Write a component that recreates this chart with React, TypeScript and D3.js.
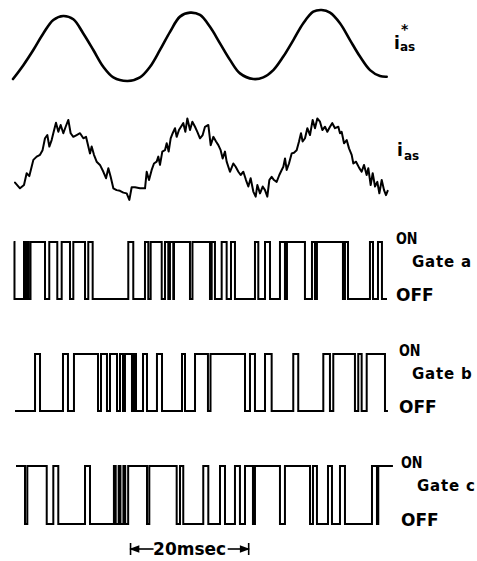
import React from "react";
import * as d3 from "d3";

// Reference current i*_as (normalized) vs time in ms
const refTime = [0, 1.74, 3.42, 5.1, 6.79, 8.47, 10.16, 11.84, 13.53, 15.21, 16.9, 19.32, 21.39, 23.08, 24.76, 26.45, 28.13, 29.82, 31.5, 33.18, 34.87, 36.55, 38.24, 40.48, 42.16, 43.85, 45.53, 47.22, 48.9, 50.59, 52.0, 53.4, 55.08, 56.77, 58.45, 60.14, 61.82, 62.95];
const refValue = [-1.0, -0.58, -0.12, 0.38, 0.79, 0.91, 0.81, 0.38, -0.12, -0.63, -0.95, -1.06, -0.95, -0.63, -0.12, 0.43, 0.89, 1.01, 0.94, 0.58, 0.08, -0.42, -0.83, -1.0, -0.95, -0.73, -0.32, 0.18, 0.69, 1.04, 1.09, 1.01, 0.69, 0.18, -0.32, -0.73, -0.91, -0.93];

// Measured current i_as (normalized) vs time in ms
const measTime = [0.34, 1.18, 1.85, 2.3, 2.75, 3.14, 3.43, 3.99, 4.55, 4.98, 5.39, 5.78, 6.12, 6.51, 6.79, 7.24, 7.64, 8.03, 8.48, 8.87, 9.32, 9.71, 10.16, 10.72, 11.29, 11.85, 12.3, 12.69, 12.97, 13.25, 13.64, 14.09, 14.65, 15.22, 15.67, 16.06, 16.45, 16.9, 17.46, 18.02, 18.59, 19.15, 19.6, 19.99, 20.55, 21.39, 22.24, 22.52, 22.91, 23.36, 23.75, 24.2, 24.48, 24.76, 25.15, 25.6, 25.89, 26.22, 26.56, 26.9, 27.29, 27.57, 27.96, 28.3, 28.69, 29.03, 29.37, 29.82, 30.21, 30.66, 31.05, 31.5, 31.95, 32.34, 32.9, 33.3, 33.75, 34.2, 34.59, 34.98, 35.32, 35.71, 35.99, 36.55, 37.12, 37.51, 37.96, 38.35, 38.8, 39.25, 39.64, 40.03, 40.48, 40.88, 41.16, 41.61, 42.06, 42.45, 42.84, 43.18, 43.57, 43.97, 44.41, 44.86, 45.26, 45.54, 45.82, 46.1, 46.49, 46.94, 47.33, 47.78, 48.18, 48.51, 48.79, 49.19, 49.58, 50.03, 50.48, 50.87, 51.26, 51.71, 52.11, 52.56, 52.95, 53.4, 53.79, 54.24, 54.8, 55.08, 55.36, 55.76, 56.21, 56.6, 57.05, 57.33, 57.78, 58.34, 58.73, 59.13, 59.57, 59.85, 60.25, 60.59, 60.98, 61.37, 61.71, 62.11, 62.5, 62.83, 63.11];
const measValue = [-0.71, -0.87, -0.78, -0.45, -0.53, -0.27, -0.08, 0.01, 0.06, 0.19, 0.52, 0.61, 0.29, 0.47, 0.66, 0.95, 0.7, 0.89, 0.66, 0.84, 1.03, 0.66, 0.56, 0.61, 0.66, 0.52, 0.56, 0.29, 0.1, 0.29, 0.06, -0.13, -0.22, -0.41, -0.59, -0.31, -0.55, -0.87, -0.92, -0.94, -0.99, -1.01, -1.19, -0.84, -0.84, -0.87, -0.87, -0.41, -0.64, -0.36, -0.18, -0.13, 0.01, -0.22, 0.15, 0.19, 0.38, 0.15, 0.52, 0.66, 0.8, 0.56, 0.75, 0.84, 0.94, 0.7, 1.07, 0.75, 0.98, 0.84, 0.7, 0.52, 0.61, 0.84, 0.89, 0.33, 0.56, 0.43, 0.33, 0.19, -0.04, 0.15, -0.13, -0.41, -0.18, -0.27, -0.41, -0.5, -0.41, -0.64, -0.82, -0.59, -0.96, -1.1, -0.78, -1.01, -0.82, -0.92, -1.1, -0.64, -0.55, -0.64, -0.69, -0.5, -0.36, -0.27, -0.04, -0.36, -0.18, 0.1, 0.12, 0.19, 0.43, 0.66, 0.43, 0.52, 0.8, 0.61, 1.03, 0.8, 1.07, 0.98, 0.75, 0.84, 0.7, 0.84, 0.94, 0.8, 0.84, 0.66, 0.7, 0.38, 0.47, 0.24, 0.06, -0.18, -0.13, -0.31, -0.41, -0.22, -0.5, -0.31, -0.78, -0.45, -0.82, -0.69, -1.01, -0.64, -0.92, -1.06, -0.94];

// Gate ON intervals [on, off] in ms
const gateA = [[0.1, 0.25], [1.85, 2.07], [2.4, 2.6], [2.95, 5.39], [6.11, 7.46], [8.2, 9.6], [10.16, 12.13], [12.68, 13.42], [19.42, 20.26], [22.23, 22.79], [23.19, 25.05], [25.6, 26.16], [26.44, 27.0], [27.12, 29.81], [30.23, 33.18], [33.47, 34.02], [35.15, 35.99], [36.72, 37.39], [40.76, 41.32], [42.45, 43.29], [44.97, 45.81], [46.15, 49.18], [50.36, 50.87], [51.2, 55.58], [55.92, 56.43], [60.13, 60.64], [61.48, 62.15]];
const gateB = [[3.71, 4.55], [8.42, 9.26], [10.27, 14.32], [14.82, 15.83], [16.34, 17.52], [18.02, 18.53], [18.86, 20.04], [20.38, 20.72], [21.9, 22.57], [24.25, 25.1], [28.47, 28.97], [30.66, 32.84], [33.27, 39.08], [39.92, 40.76], [42.45, 43.57], [47.21, 48.05], [52.27, 53.39], [53.95, 57.6], [58.16, 58.73], [59.58, 62.66]];
const gateC = [[0.51, 2.02], [2.41, 5.68], [6.79, 7.63], [12.13, 12.97], [17.0, 17.3], [17.8, 18.1], [18.6, 18.9], [19.4, 22.57], [22.96, 27.57], [28.13, 28.68], [32.05, 32.9], [34.87, 35.71], [37.39, 38.23], [39.08, 40.42], [40.76, 44.97], [45.81, 50.03], [50.53, 51.2], [53.06, 53.73], [55.08, 55.92], [60.47, 61.31], [61.53, 64.0]];
const gateStart = [0.1, 0.34, 0.51];
const gateEnd = [63.0, 63.16, 64.0];
const gateNames = ["Gate a", "Gate b", "Gate c"];
const scaleBarMs = [19.8, 39.7];
const scaleBarLabel = "20msec";

const W = 477;
const H = 561;

function stepPoints(start: number, end: number, iv: number[][]): [number, number][] {
  const pts: [number, number][] = [];
  let state = iv.length && iv[0][0] <= start ? 1 : 0;
  pts.push([start, state]);
  for (const [a, b] of iv) {
    if (a > start) pts.push([a, 1]);
    if (b < end) {
      pts.push([b, 0]);
      state = 0;
    } else {
      state = 1;
    }
  }
  pts.push([end, state]);
  return pts;
}

export default function App() {
  const x = d3.scaleLinear().domain([0, 63]).range([13, 387]);
  const yRef = d3.scaleLinear().domain([-1, 1]).range([79, 13]);
  const yMeas = d3.scaleLinear().domain([-1, 1]).range([193, 121]);

  const refLine = d3
    .line<number>()
    .x((_, i) => x(refTime[i]))
    .y((d) => yRef(d))
    .curve(d3.curveCatmullRom.alpha(0.5));
  const measLine = d3
    .line<number>()
    .x((_, i) => x(measTime[i]))
    .y((d) => yMeas(d));

  const gates = [gateA, gateB, gateC];
  const gateLevels = [
    [299, 242],
    [411, 354],
    [524, 466],
  ];
  const labelX = [396, 399, 401];
  const gateLabelX = [412, 412, 417];

  const font = "'DejaVu Sans', 'Liberation Sans', Arial, sans-serif";
  const ink = "#000";

  const yBar = 549;
  const x0 = x(scaleBarMs[0]);
  const x1 = x(scaleBarMs[1]);

  return (
    <svg
      width={W}
      height={H}
      style={{ position: "absolute", left: 0, top: 0, background: "#fff" }}
      fontFamily={font}
    >
      <rect width={W} height={H} fill="#fff" />
      <path d={refLine(refValue) || ""} fill="none" stroke={ink} strokeWidth={2.6} strokeLinecap="round" strokeLinejoin="round" />
      <path d={measLine(measValue) || ""} fill="none" stroke={ink} strokeWidth={2} strokeLinejoin="round" strokeLinecap="round" />

      {/* i*_as label */}
      <text x={394} y={49} fontSize={17} fontWeight="bold" fill={ink}>i</text>
      <text x={400} y={51} fontSize={12} fontWeight="bold" fill={ink}>as</text>
      <text x={401} y={34} fontSize={14} fontWeight="bold" fill={ink}>*</text>

      {/* i_as label */}
      <text x={397} y={156} fontSize={17} fontWeight="bold" fill={ink}>i</text>
      <text x={404} y={160} fontSize={12} fontWeight="bold" fill={ink}>as</text>

      {gates.map((iv, gi) => {
        const [offY, onY] = gateLevels[gi];
        const yG = d3.scaleLinear().domain([0, 1]).range([offY, onY]);
        const pts = stepPoints(gateStart[gi], gateEnd[gi], iv);
        const path = d3
          .line<[number, number]>()
          .x((d) => x(d[0]))
          .y((d) => yG(d[1]))
          .curve(d3.curveStepAfter)(pts);
        return (
          <g key={gi}>
            <path d={path || ""} fill="none" stroke={ink} strokeWidth={2} strokeLinejoin="miter" />
            <g transform={`translate(${labelX[gi]},${onY + 2}) scale(0.8,1)`}>
              <text x={0} y={0} fontSize={16} fontWeight="bold" fill={ink}>ON</text>
            </g>
            <text x={gateLabelX[gi]} y={onY + 25} fontSize={15} fontWeight="bold" letterSpacing={0.8} fill={ink}>{gateNames[gi]}</text>
            <text x={labelX[gi]} y={offY + 2} fontSize={17} fontWeight="bold" fill={ink}>OFF</text>
          </g>
        );
      })}

      {/* scale bar */}
      <g stroke={ink} strokeWidth={1.6} fill={ink}>
        <line x1={x0} y1={yBar - 6} x2={x0} y2={yBar + 6} />
        <line x1={x0} y1={yBar} x2={x0 + 23} y2={yBar} />
        <path d={`M${x0 + 1},${yBar} L${x0 + 8},${yBar - 2.5} L${x0 + 8},${yBar + 2.5} Z`} />
        <line x1={x1} y1={yBar - 6} x2={x1} y2={yBar + 6} />
        <line x1={x1 - 21} y1={yBar} x2={x1} y2={yBar} />
        <path d={`M${x1 - 1},${yBar} L${x1 - 8},${yBar - 2.5} L${x1 - 8},${yBar + 2.5} Z`} />
      </g>
      <text x={(x0 + x1) / 2} y={yBar + 6} textAnchor="middle" fontSize={17} fontWeight="bold" fill={ink}>
        {scaleBarLabel}
      </text>
    </svg>
  );
}
